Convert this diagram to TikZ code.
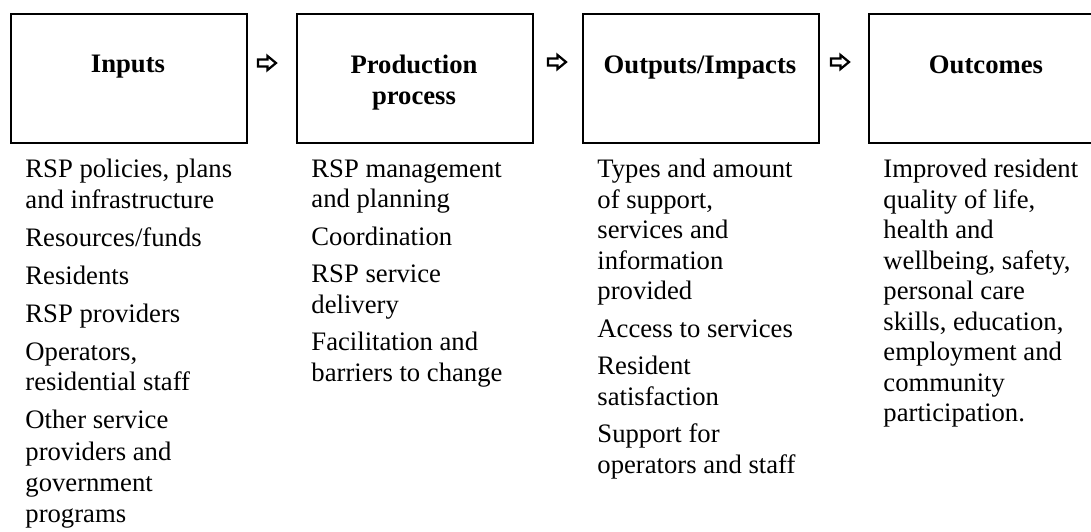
\documentclass[tikz,border=0pt]{standalone}
\usepackage{fontspec}
\setmainfont{Liberation Serif}

\begin{document}
\begin{tikzpicture}[x=0.45pt,y=0.45pt,yscale=-1,xscale=1,
		stage/.style={draw, line width=1pt, minimum width=106.2pt, minimum height=58pt, inner sep=0pt, anchor=north west},
		head/.style={anchor=north, inner sep=0pt, align=center, font=\fontsize{12}{13.7}\selectfont\bfseries},
		items/.style={anchor=north west, inner sep=0pt, align=left, font=\fontsize{12}{13.7}\selectfont},
		flow/.style={draw, line width=1pt}]
		% Diagram is 1091 wide and 531 high; the last box runs past the right edge
		\clip (0,0) rectangle (1091,531);

		% The four stage boxes
		\node[stage] (inBox) at (10,13) {};
		\node[stage] (prodBox) at (296,13) {};
		\node[stage] (outBox) at (582,13) {};
		\node[stage] (endBox) at (868,13) {};

		% The bold titles in the boxes
		\node[head] (inHead) at (128,55) {Inputs};
		\node[head] (prodHead) at (414,55) {Production\\process};
		\node[head] (outHead) at (700,55) {Outputs/Impacts};
		\node[head] (endHead) at (986,55) {Outcomes};

		% The outlined arrows between the boxes
		\coordinate (arrA) at (267,63);
		\coordinate (arrB) at (557,62);
		\coordinate (arrC) at (840,62);
		\draw[flow, shift={(arrA)}] (-9,-3.5) -- (0.5,-3.5) -- (0.5,-7) -- (9,0) -- (0.5,7) -- (0.5,3.5) -- (-9,3.5) -- cycle;
		\draw[flow, shift={(arrB)}] (-9,-3.5) -- (0.5,-3.5) -- (0.5,-7) -- (9,0) -- (0.5,7) -- (0.5,3.5) -- (-9,3.5) -- cycle;
		\draw[flow, shift={(arrC)}] (-9,-3.5) -- (0.5,-3.5) -- (0.5,-7) -- (9,0) -- (0.5,7) -- (0.5,3.5) -- (-9,3.5) -- cycle;

		% The lists below each box
		\node[items] (inList) at (25,159) {RSP policies, plans\\and infrastructure\\[3.4pt]
			Resources/funds\\[3.4pt]
			Residents\\[3.4pt]
			RSP providers\\[3.4pt]
			Operators,\\residential staff\\[3.4pt]
			Other service\\[0.4pt]providers and\\[0.4pt]government\\[0.4pt]programs};
		\node[items] (prodList) at (311,159) {RSP management\\and planning\\[3.2pt]
			Coordination\\[3.2pt]
			RSP service\\delivery\\[3.2pt]
			Facilitation and\\barriers to change};
		\node[items] (outList) at (597,159) {Types and amount\\of support,\\services and\\information\\provided\\[3.2pt]
			Access to services\\[3.2pt]
			Resident\\satisfaction\\[3.2pt]
			Support for\\operators and staff};
		\node[items] (endList) at (883,159) {Improved resident\\quality of life,\\health and\\wellbeing, safety,\\personal care\\skills, education,\\employment and\\community\\participation.};
	\end{tikzpicture}
\end{document}
